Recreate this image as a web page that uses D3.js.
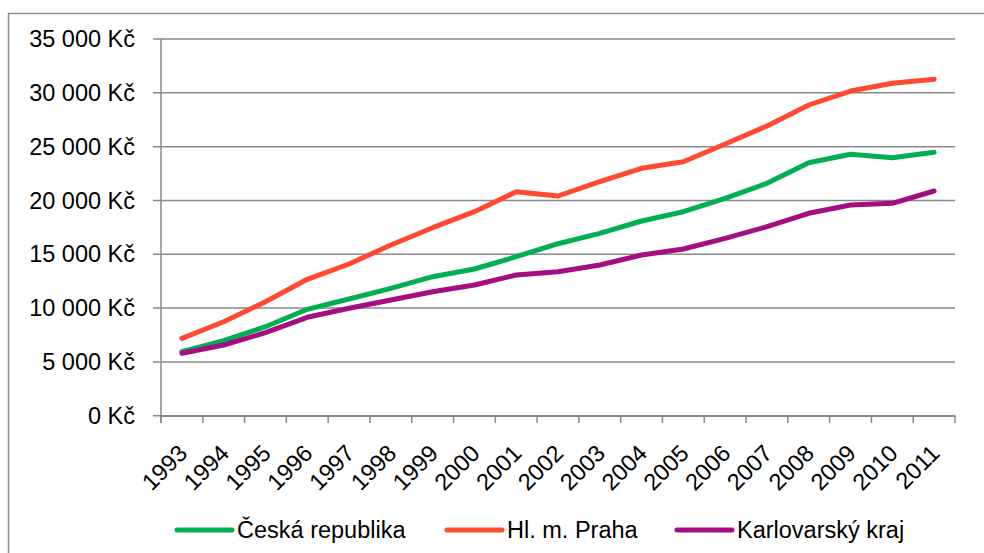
<!DOCTYPE html>
<html><head><meta charset="utf-8">
<script src="https://cdn.jsdelivr.net/npm/d3@7"></script>
<style>body{margin:0;background:#fff}svg{display:block}</style>
</head><body>
<script>
const years = ["1993","1994","1995","1996","1997","1998","1999","2000","2001","2002","2003","2004","2005","2006","2007","2008","2009","2010","2011"];
const ceskaRepublika = [5946,6968,8269,9885,10843,11836,12915,13630,14773,15980,16947,18090,18954,20198,21592,23507,24287,23971,24473];
const praha = [7190,8733,10592,12673,14094,15860,17467,18954,20812,20413,21742,22985,23600,25244,26916,28868,30168,30883,31255];
const karlovarsky = [5797,6569,7712,9142,9978,10750,11521,12144,13073,13379,14002,14931,15488,16482,17560,18805,19576,19734,20877];
const yTicks = [0,5000,10000,15000,20000,25000,30000,35000];
const seriesNames = ["Česká republika","Hl. m. Praha","Karlovarský kraj"];
const seriesColors = ["#00B050","#FF4A31","#A50E82"];

const W=984,H=553;
const svg=d3.select("body").append("svg").attr("width",W).attr("height",H);
const font="'Liberation Sans', Arial, sans-serif";
const fs=23.5;
const x=d3.scaleBand().domain(years).range([161,955]);
const y=d3.scaleLinear().domain([0,35000]).range([415.7,39]);

// outer frame
svg.append("path").attr("d",`M8.5,${H} V13.5 H${W}`).attr("fill","none").attr("stroke","#8c8c8c").attr("stroke-width",1.5);

// gridlines
svg.append("g").selectAll("line").data(yTicks).join("line")
  .attr("x1",153).attr("x2",955).attr("y1",d=>y(d)).attr("y2",d=>y(d))
  .attr("stroke","#898989").attr("stroke-width",1.5);

// y axis
const fmt=v=>d3.format(",")(v).replace(/,/g," ")+" Kč";
svg.append("line").attr("x1",161).attr("x2",161).attr("y1",y(35000)).attr("y2",423).attr("stroke","#898989").attr("stroke-width",1.5);
svg.append("g").selectAll("text").data(yTicks).join("text")
  .attr("x",135).attr("y",d=>y(d)).attr("dy","0.35em").attr("text-anchor","end")
  .attr("font-family",font).attr("font-size",fs).attr("fill","#000").text(fmt);

// x axis
const xg=svg.append("g").attr("transform","translate(0,415.7)");
xg.call(d3.axisBottom(x).tickSize(0).tickFormat(""));
xg.select(".domain").attr("stroke","#898989").attr("stroke-width",1.5);
const tickXs=years.map(d=>x(d)).concat([x.range()[1]]);
svg.append("g").selectAll("line").data(tickXs).join("line")
  .attr("x1",d=>d).attr("x2",d=>d).attr("y1",415.7).attr("y2",423)
  .attr("stroke","#898989").attr("stroke-width",1.5);
svg.append("g").selectAll("text").data(years).join("text")
  .attr("transform",d=>`translate(${x(d)+x.bandwidth()/2+1},${449}) rotate(-45)`)
  .attr("text-anchor","end").attr("dy","0.35em")
  .attr("font-family",font).attr("font-size",fs).attr("fill","#000").text(d=>d);

// lines
const data=[ceskaRepublika,praha,karlovarsky];
const line=d3.line().x((d,i)=>x(years[i])+x.bandwidth()/2).y(d=>y(d));
svg.append("g").selectAll("path").data(data).join("path")
  .attr("d",line).attr("fill","none").attr("stroke",(d,i)=>seriesColors[i])
  .attr("stroke-width",5).attr("stroke-linecap","round").attr("stroke-linejoin","round");

// legend
const legX=[177,447,677];
const lg=svg.append("g").selectAll("g").data(seriesNames).join("g")
  .attr("transform",(d,i)=>`translate(${legX[i]},530)`);
lg.append("line").attr("x1",0).attr("x2",55).attr("stroke",(d,i)=>seriesColors[i]).attr("stroke-width",5).attr("stroke-linecap","round");
lg.append("text").attr("x",60).attr("dy","0.35em").attr("font-family",font).attr("font-size",fs).attr("fill","#000").text(d=>d);
</script>
</body></html>
